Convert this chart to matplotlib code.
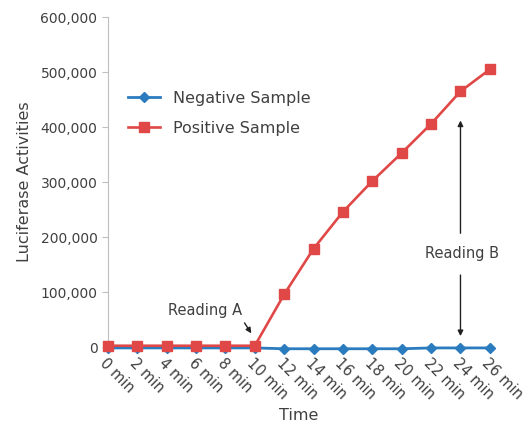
import matplotlib.pyplot as plt
import numpy as np

# data
times = ['0 min', '2 min', '4 min', '6 min', '8 min', '10 min', '12 min',
         '14 min', '16 min', '18 min', '20 min', '22 min', '24 min', '26 min']
negative = [-1500, -1500, -1500, -1500, -1500, -1500, -3000,
            -3000, -3000, -3000, -3000, -1500, -1500, -1500]
positive = [2500, 2500, 2500, 2500, 2500, 2500, 96000,
            179000, 246000, 302000, 353000, 406000, 465000, 505000]
yticks = [0, 100000, 200000, 300000, 400000, 500000, 600000]

txt = '#404040'
grey = '#bfbfbf'
plt.rcParams['font.family'] = ['DejaVu Sans']

fig = plt.figure(figsize=(5.29, 4.28), dpi=100)
ax = fig.add_axes([0.204, 0.189, 0.722, 0.771])

x = np.arange(len(times))
ax.plot(x, negative, color='#2b7bbf', lw=2.0, marker='D', ms=5.2,
        label='Negative Sample', clip_on=False, zorder=3)
ax.plot(x, positive, color='#e04848', lw=1.9, marker='s', ms=6.5,
        label='Positive Sample', clip_on=False, zorder=4)

ax.set_xlim(0, len(times) - 1)
ax.set_ylim(0, 600000)
ax.set_yticks(yticks)
ax.set_yticklabels([f'{v:,}' for v in yticks])
ax.set_xticks(x)
ax.set_xticklabels(times, rotation=-45, ha='left', va='top',
                   rotation_mode='anchor')

for s in ['top', 'right', 'bottom']:
    ax.spines[s].set_visible(False)
ax.spines['left'].set_color(grey)
ax.tick_params(axis='y', colors=grey, labelcolor=txt, labelsize=10,
               length=4, direction='out')
ax.tick_params(axis='x', length=0, labelcolor=txt, labelsize=10.5, pad=6)

ax.set_xlabel('Time', fontsize=11.5, color=txt, labelpad=4)
ax.set_ylabel('Luciferase Activities', fontsize=11.5, color=txt, labelpad=6)

leg = ax.legend(loc='upper left', bbox_to_anchor=(0.015, 0.82), frameon=False,
                fontsize=11.5, handlelength=2.0, labelspacing=0.95)
for t in leg.get_texts():
    t.set_color(txt)

# annotations
arrow = dict(arrowstyle='-|>', color='#202020', lw=1, mutation_scale=8,
             shrinkA=0, shrinkB=0)
ax.text(3.3, 67000, 'Reading A', fontsize=10.5, color=txt,
        ha='center', va='center')
ax.annotate('', xy=(4.88, 25000), xytext=(4.65, 44000), arrowprops=arrow)
ax.text(12.05, 171000, 'Reading B', fontsize=10.5, color=txt,
        ha='center', va='center')
ax.annotate('', xy=(12, 412000), xytext=(12, 207000), arrowprops=arrow)
ax.annotate('', xy=(12, 20000), xytext=(12, 131000), arrowprops=arrow)

fig.savefig('out.png', dpi=100)
